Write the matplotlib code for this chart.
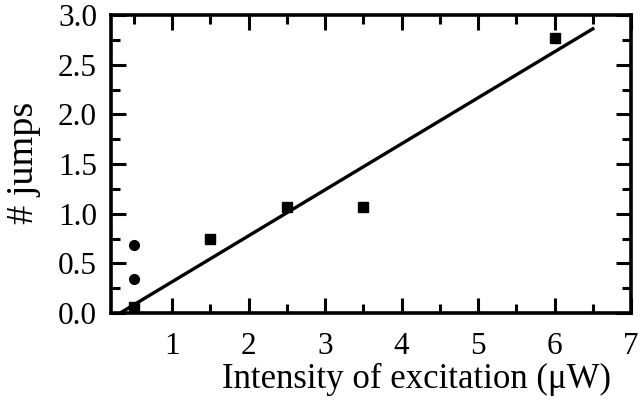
import matplotlib
matplotlib.use("Agg")
import matplotlib.pyplot as plt
from matplotlib.ticker import MultipleLocator, FormatStrFormatter

# measured jumps vs excitation intensity
sq_x = [0.5, 1.5, 2.5, 3.5, 6.0]
sq_y = [0.06, 0.75, 1.07, 1.07, 2.77]
circ_x = [0.5, 0.5]
circ_y = [0.34, 0.68]
# linear fit, drawn between its end points
fit_x = [0.32, 6.52]
fit_y = [0.0, 2.87]

plt.rcParams['font.family'] = ['Liberation Serif', 'DejaVu Serif']

fig = plt.figure(figsize=(6.4, 4.03), dpi=100)
ax = fig.add_axes([111/640, 1 - 313/403, 520/640, 298/403])

ax.plot(fit_x, fit_y, color='black', lw=2.4, solid_capstyle='butt')
ax.plot(sq_x, sq_y, 's', color='black', ms=6.5, clip_on=False, zorder=3)
ax.plot(circ_x, circ_y, 'o', color='black', ms=7, clip_on=False, zorder=3)

ax.set_xlim(0.2, 7)
ax.set_ylim(0, 3)
ax.xaxis.set_major_locator(MultipleLocator(1))
ax.xaxis.set_minor_locator(MultipleLocator(0.5))
ax.yaxis.set_major_locator(MultipleLocator(0.5))
ax.yaxis.set_minor_locator(MultipleLocator(0.25))
ax.yaxis.set_major_formatter(FormatStrFormatter('%.1f'))

ax.tick_params(which='both', direction='in', top=True, right=True, width=2.2, labelsize=22.5)
ax.tick_params(which='major', length=11)
ax.tick_params(which='minor', length=6.5)
ax.tick_params(axis='x', which='major', pad=14)
ax.tick_params(axis='y', which='major', pad=10)
for s in ax.spines.values():
    s.set_linewidth(2.6)

ax.set_xlabel('Intensity of excitation (\u03bcW)', fontsize=25, va='top')
ax.xaxis.set_label_coords(0.588, -0.168)
ax.set_ylabel('# jumps', fontsize=27.5)
ax.yaxis.set_label_coords(-0.135, 0.505)

fig.savefig('out.png', dpi=100)
